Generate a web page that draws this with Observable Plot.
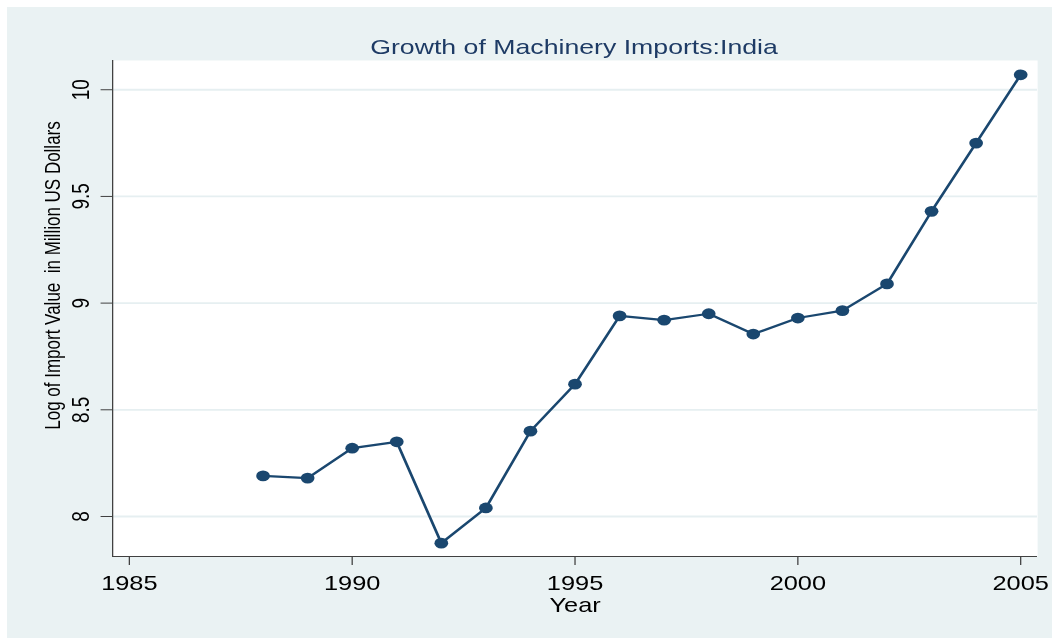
<!DOCTYPE html>
<html>
<head>
<meta charset="utf-8">
<script src="https://cdn.jsdelivr.net/npm/d3@7"></script>
<script src="https://cdn.jsdelivr.net/npm/@observablehq/plot@0.6"></script>
<style>
  html, body { margin: 0; padding: 0; background: #ffffff; width: 1052px; height: 639px; overflow: hidden; }
  #bg { position: absolute; left: 7px; top: 7px; width: 1045px; height: 631px; background: #eaf2f3; }
  #stage { position: absolute; left: 0; top: 0; width: 828.35px; height: 639px; transform: scaleX(1.27); transform-origin: 0 0; font-family: "Liberation Sans", Arial, sans-serif; }
  #title { position: absolute; left: 0; width: 904px; top: 35.5px; font-size: 21px; line-height: 21px; text-align: center; color: #1e3b65; white-space: nowrap; }
  #chart { position: absolute; left: 0; top: 60px; }
</style>
</head>
<body>
<div id="bg"></div>
<div id="stage">
  <div id="title"></div>
  <div id="chart"></div>
</div>
<script>
const titleText = "Growth of Machinery Imports:India";
const xLabel = "Year";
const yLabel = "Log of Import Value  in Million US Dollars";

const years = [1988, 1989, 1990, 1991, 1992, 1993, 1994, 1995, 1996, 1997, 1998, 1999, 2000, 2001, 2002, 2003, 2004, 2005];
const logImports = [8.19, 8.18, 8.32, 8.35, 7.875, 8.04, 8.40, 8.62, 8.94, 8.92, 8.95, 8.855, 8.93, 8.965, 9.09, 9.43, 9.75, 10.07];

const xTicks = [1985, 1990, 1995, 2000, 2005];
const yTicks = [8, 8.5, 9, 9.5, 10];
const yTickLabels = ["8", "8.5", "9", "9.5", "10"];
const xDomain = [1984.625, 2005.38];
const yDomain = [7.8125, 10.137];

document.getElementById("title").textContent = titleText;

const data = years.map((year, i) => ({year, value: logImports[i]}));

const plot = Plot.plot({
  width: 828.35,
  height: 579,
  marginLeft: 88.19,
  marginRight: 11.81,
  marginTop: 0,
  marginBottom: 83,
  style: {fontFamily: "'Liberation Sans', Arial, sans-serif", background: "transparent", color: "#000", overflow: "visible"},
  x: {domain: xDomain},
  y: {domain: yDomain},
  marks: [
    Plot.frame({fill: "white", stroke: null}),
    Plot.gridY(yTicks, {stroke: "#e6eff1", strokeOpacity: 1, strokeWidth: 1.8}),
    Plot.ruleX([xDomain[0]], {stroke: "#404040", strokeWidth: 1}),
    Plot.ruleY([yDomain[0]], {stroke: "#404040", strokeWidth: 1}),
    Plot.axisX({ticks: xTicks, tickFormat: "d", tickSize: 9, tickPadding: 10, fontSize: 20, stroke: "#404040", fill: "#000", label: xLabel, labelAnchor: "center", labelOffset: 56, labelArrow: "none"}),
    Plot.axisY({ticks: yTicks, tickFormat: (d) => yTickLabels[yTicks.indexOf(d)], tickSize: 9, tickPadding: 10, tickRotate: -90, fontSize: 19, stroke: "#404040", fill: "#000", label: null}),
    Plot.text([yLabel], {frameAnchor: "left", rotate: -90, textAnchor: "middle", lineAnchor: "bottom", dx: -41.3, dy: -33, fontSize: 17, fill: "#000"}),
    Plot.line(data, {x: "year", y: "value", stroke: "#1a476f", strokeWidth: 2.2}),
    Plot.dot(data, {x: "year", y: "value", r: 5.4, fill: "#1a476f", stroke: null})
  ]
});
document.getElementById("chart").appendChild(plot);
</script>
</body>
</html>
